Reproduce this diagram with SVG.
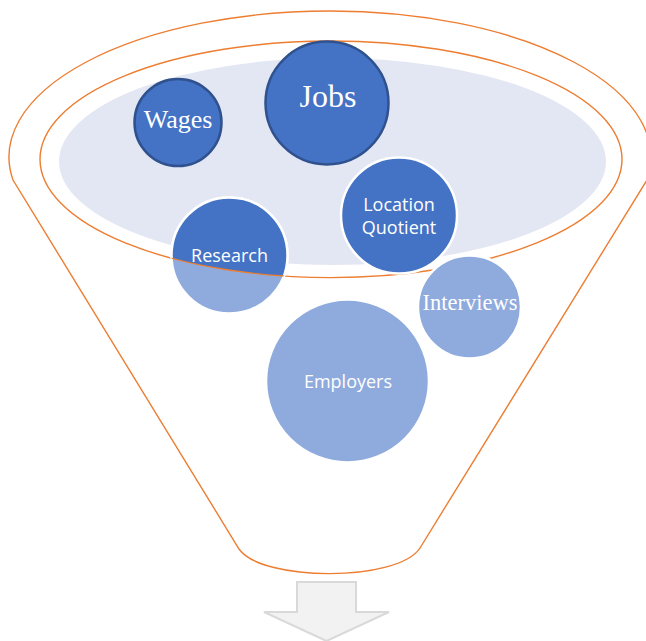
<svg xmlns="http://www.w3.org/2000/svg" width="646" height="641" viewBox="0 0 646 641">
<style>
.funnel{fill:none;stroke:#ED7D31;stroke-width:1.4}
.dark{fill:#4472C4}
.light{fill:#8FAADC}
.edge-dark{stroke:#2F528F;stroke-width:2.5}
.edge-white{stroke:#FFFFFF;stroke-width:2.5}
.serif{font-family:"Liberation Serif","Times New Roman",serif;fill:#FFFFFF;text-anchor:middle}
.sans{font-family:"Open Sans","Noto Sans",sans-serif;fill:#FFFFFF;text-anchor:middle;font-size:18px}
</style>
<defs>
<clipPath id="innerClip"><ellipse cx="331" cy="159.3" rx="291" ry="118.3"/></clipPath>
<clipPath id="researchClip"><circle cx="229.5" cy="255.5" r="58"/></clipPath>
</defs>
<rect width="646" height="641" fill="#FFFFFF"/>
<g id="funnel">
<path class="funnel" d="M13,180 A321,146 0 1 1 647,180 L420,548 C398,582 262,582 239,549 Z"/>
<ellipse class="funnel" cx="331" cy="159.3" rx="291" ry="118.3"/>
<ellipse cx="332.5" cy="161.5" rx="273.5" ry="103.5" fill="#E3E7F3"/>
</g>
<g id="arrow">
<polygon points="297,582 356,582 356,612 389,612 326.5,641 264,612 297,612" fill="#F2F2F2" stroke="#D9D9D9" stroke-width="2"/>
</g>
<g id="wages">
<circle class="dark edge-dark" cx="178" cy="122.5" r="43.5"/>
<text class="serif" x="178" y="128" font-size="26">Wages</text>
</g>
<g id="jobs">
<circle class="dark edge-dark" cx="327" cy="103" r="61.5"/>
<text class="serif" x="328" y="107" font-size="32">Jobs</text>
</g>
<g id="location-quotient">
<circle class="dark edge-white" cx="399" cy="215.5" r="58"/>
<text class="sans" x="399" y="211">Location</text>
<text class="sans" x="399" y="234">Quotient</text>
</g>
<g id="research">
<circle class="light edge-white" cx="229.5" cy="255.5" r="58"/>
<circle class="dark" cx="229.5" cy="255.5" r="58" clip-path="url(#innerClip)"/>
<circle cx="229.5" cy="255.5" r="58" fill="none" stroke="#FFFFFF" stroke-width="2.5" clip-path="url(#innerClip)"/>
<ellipse class="funnel" cx="331" cy="159.3" rx="291" ry="118.3" clip-path="url(#researchClip)"/>
<text class="sans" x="229.5" y="262">Research</text>
</g>
<g id="interviews">
<circle class="light edge-white" cx="469.5" cy="307" r="51.5"/>
<text class="serif" x="470" y="310" font-size="22.5">Interviews</text>
</g>
<g id="employers">
<circle class="light edge-white" cx="347.5" cy="381" r="81.5"/>
<text class="sans" x="348" y="388">Employers</text>
</g>
<g id="connectors"></g>
</svg>
